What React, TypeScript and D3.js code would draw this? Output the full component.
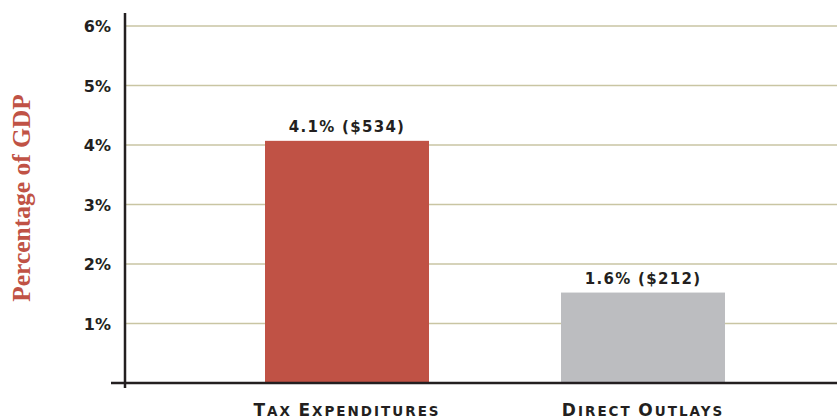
import React from "react";
import * as d3 from "d3";

const categories = ["Tax Expenditures", "Direct Outlays"];
const barValues = [4.07, 1.52];
const barLabels = ["4.1% ($534)", "1.6% ($212)"];
const barColors = ["#c05245", "#bcbdc0"];
const yTicks = [1, 2, 3, 4, 5, 6];

const W = 837;
const H = 419;

export default function App() {
  const x = d3.scaleBand<string>().domain(categories).range([117, 873]).paddingInner(0.446).paddingOuter(0.5);
  const y = d3.scaleLinear().domain([0, 6]).range([383, 26]);
  const sans = "'DejaVu Sans', 'Open Sans', sans-serif";

  const smallCaps = (s: string) =>
    s.split(" ").map((w, i) => (
      <React.Fragment key={i}>
        {i > 0 ? <tspan fontSize={13}> </tspan> : null}
        <tspan fontSize={17}>{w[0].toUpperCase()}</tspan>
        <tspan fontSize={13.5}>{w.slice(1).toUpperCase()}</tspan>
      </React.Fragment>
    ));

  return (
    <svg width={W} height={H} style={{ position: "absolute", left: 0, top: 0 }}>
      <rect width={W} height={H} fill="#fff" />
      {yTicks.map((t) => (
        <line key={t} x1={125} x2={W} y1={y(t)} y2={y(t)} stroke="#c9c5a3" strokeWidth={1.5} />
      ))}
      {yTicks.map((t) => (
        <text key={"l" + t} x={111} y={y(t) + 6} textAnchor="end" fontFamily={sans} fontWeight="bold" fontSize={16} fill="#231f20">
          {t}%
        </text>
      ))}
      {categories.map((c, i) => {
        const x0 = x(c)!;
        const bw = x.bandwidth();
        return (
          <g key={c}>
            <rect x={x0} y={y(barValues[i])} width={bw} height={y(0) - y(barValues[i])} fill={barColors[i]} />
            <text x={x0 + bw / 2} y={y(barValues[i]) - 9} textAnchor="middle" fontFamily={sans} fontWeight="bold" fontSize={15} fill="#231f20" letterSpacing={1.3}>
              {barLabels[i]}
            </text>
            <text x={x0 + bw / 2} y={416} textAnchor="middle" fontFamily={sans} fontWeight="bold" fill="#231f20" letterSpacing={2}>
              {smallCaps(c)}
            </text>
          </g>
        );
      })}
      <line x1={125} x2={125} y1={13} y2={388} stroke="#231f20" strokeWidth={2.5} />
      <line x1={111} x2={W} y1={383} y2={383} stroke="#231f20" strokeWidth={2.5} />
      <text
        transform={`translate(30,198) rotate(-90)`}
        textAnchor="middle"
        fontFamily="'Liberation Serif', 'DejaVu Serif', serif"
        fontWeight="bold"
        fontSize={25.5}
        fill="#c05245"
      >
        Percentage of GDP
      </text>
    </svg>
  );
}
